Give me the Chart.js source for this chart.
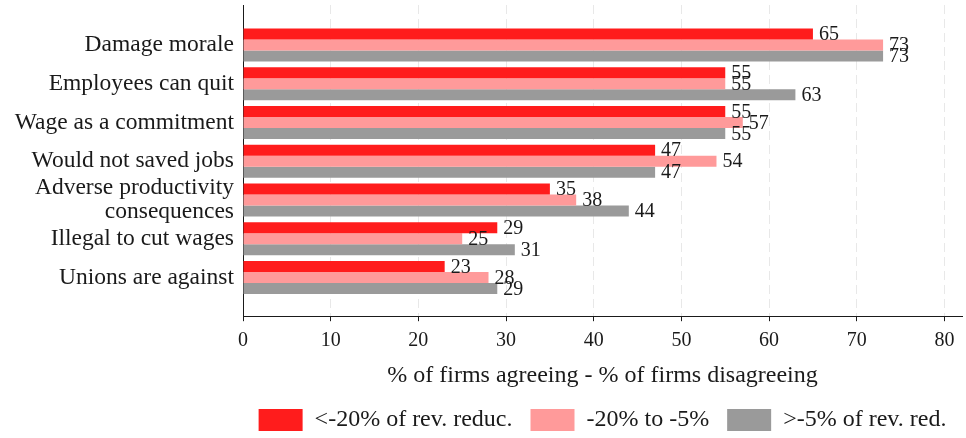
<!DOCTYPE html>
<html>
<head>
<meta charset="utf-8">
<script src="https://cdn.jsdelivr.net/npm/chart.js@4"></script>
<style>
  html, body { margin: 0; padding: 0; background: #fff; }
  #wrap { width: 966px; height: 438px; }
</style>
</head>
<body>
<div id="wrap"><canvas id="myChart"></canvas></div>
<script>
// categories, top to bottom
const categories = [
    'Damage morale',
    'Employees can quit',
    'Wage as a commitment',
    'Would not saved jobs',
    ['Adverse productivity', 'consequences'],
    'Illegal to cut wages',
    'Unions are against'
];

const seriesNames = ['<-20% of rev. reduc.', '-20% to -5%', '>-5% of rev. red.'];
const bigDrop = [65, 55, 55, 47, 35, 29, 23];
const midDrop = [73, 55, 57, 54, 38, 25, 28];
const smallDrop = [73, 63, 55, 47, 44, 31, 29];
const xTicks = [0, 10, 20, 30, 40, 50, 60, 70, 80];

const colors = ['#ff1c1c', '#ff9a9a', '#9a9a9a'];
const serif = "'Liberation Serif', 'DejaVu Serif', serif";

function toPoints(vals) {
    return vals.map((v, i) => ({ x: v, y: i }));
}

// value labels at the end of each bar
const barLabels = {
    id: 'barLabels',
    afterDatasetsDraw(chart) {
        const ctx = chart.ctx;
        ctx.save();
        ctx.font = '20px ' + serif;
        ctx.fillStyle = '#1a1a1a';
        ctx.textAlign = 'left';
        ctx.textBaseline = 'middle';
        chart.data.datasets.forEach((ds, d) => {
            const meta = chart.getDatasetMeta(d);
            meta.data.forEach((bar, i) => {
                ctx.fillText(ds.data[i].x, bar.x + 6, bar.y + 1);
            });
        });
        ctx.restore();
    }
};

// center the legend under the plot area, not the whole canvas
const legendUnderPlot = {
    id: 'legendUnderPlot',
    afterLayout(chart) {
        if (chart.legend) {
            chart.legend.left = chart.chartArea.left - 23;
            chart.legend.right = chart.chartArea.right + 23;
        }
    }
};

const data = {
    datasets: [
        { label: seriesNames[0], data: toPoints(bigDrop), backgroundColor: colors[0] },
        { label: seriesNames[1], data: toPoints(midDrop), backgroundColor: colors[1] },
        { label: seriesNames[2], data: toPoints(smallDrop), backgroundColor: colors[2] }
    ]
};

const config = {
    type: 'bar',
    data: data,
    plugins: [barLabels, legendUnderPlot],
    options: {
        indexAxis: 'y',
        responsive: false,
        animation: false,
        layout: { padding: { top: 5, right: 4, bottom: -4, left: 0 } },
        datasets: {
            bar: { barPercentage: 1, categoryPercentage: 0.85 }
        },
        scales: {
            x: {
                type: 'linear',
                min: 0,
                max: 82,
                afterBuildTicks(scale) {
                    scale.ticks = xTicks.map(v => ({ value: v }));
                },
                ticks: { font: { family: serif, size: 20 }, color: '#1a1a1a', padding: 8, maxRotation: 0 },
                grid: { color: '#e8e8e8', tickColor: '#1a1a1a', tickLength: 5, lineWidth: 1 },
                border: { color: '#1a1a1a', width: 1, dash: [9, 5] },
                title: {
                    display: true,
                    text: '% of firms agreeing - % of firms disagreeing',
                    font: { family: serif, size: 24 },
                    color: '#1a1a1a',
                    padding: { top: 0, bottom: 0 }
                }
            },
            y: {
                type: 'linear',
                offset: false,
                min: -1.03,
                max: 7,
                reverse: true,
                afterBuildTicks(scale) {
                    scale.ticks = categories.map((c, i) => ({ value: i }));
                },
                afterFit(scale) {
                    scale.width = 243;
                    scale.paddingTop = 0;
                    scale.paddingBottom = 0;
                },
                ticks: {
                    autoSkip: false,
                    callback: (v) => categories[v],
                    font: { family: serif, size: 23.5, lineHeight: 1.02 },
                    color: '#1a1a1a',
                    padding: 1
                },
                grid: { display: false, offset: false },
                border: { color: '#1a1a1a', width: 1 }
            }
        },
        plugins: {
            legend: {
                position: 'bottom',
                labels: {
                    boxWidth: 44,
                    boxHeight: 22,
                    padding: 18,
                    color: '#1a1a1a',
                    font: { family: serif, size: 24 }
                }
            },
            tooltip: { enabled: false }
        }
    }
};

const canvas = document.getElementById('myChart');
canvas.width = 966;
canvas.height = 438;
var myChart = new Chart(canvas, config);
</script>
</body>
</html>
